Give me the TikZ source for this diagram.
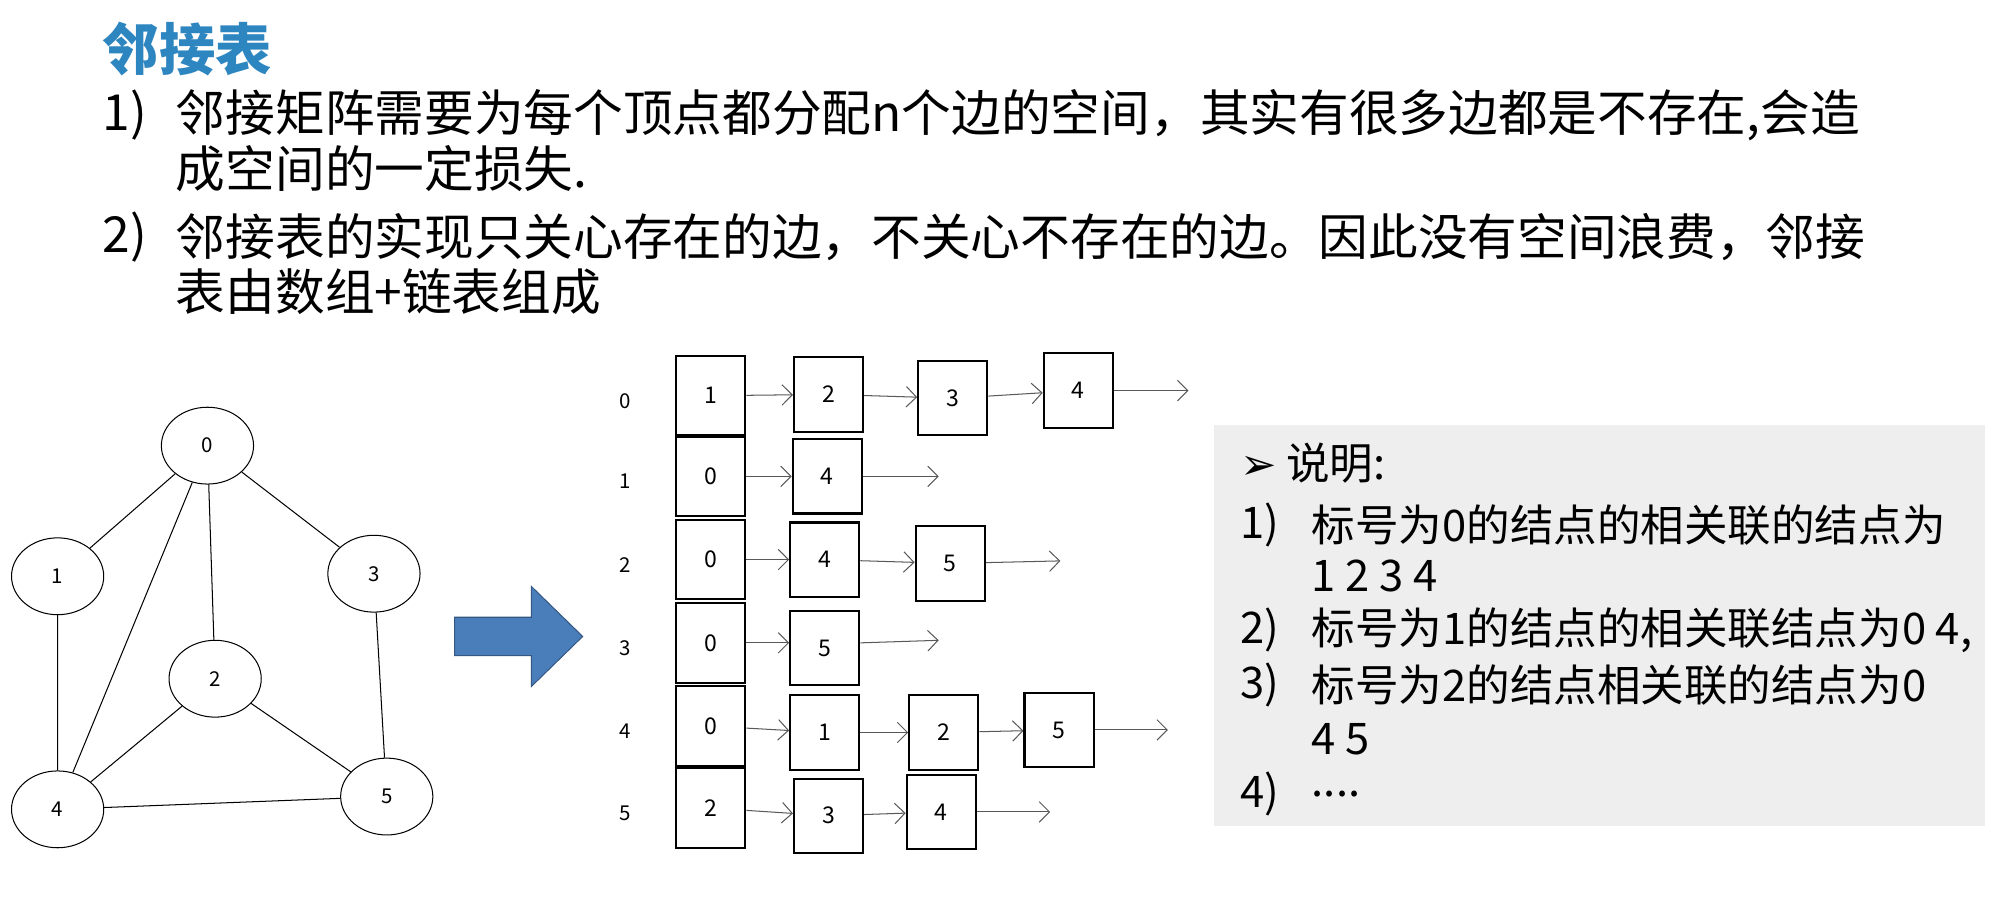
\documentclass[tikz,border=0pt]{standalone}
\usepackage{fontspec}
\setmainfont{Noto Sans CJK SC}
\newfontfamily\dv{DejaVu Sans}
\usetikzlibrary{arrows.meta,shapes.geometric}
\definecolor{ttl}{HTML}{2E86C1}
\definecolor{arrblue}{HTML}{4A7EBB}
\definecolor{panel}{HTML}{EEEEEE}
\tikzset{
 gn/.style={draw,ellipse,minimum width=36pt,minimum height=30pt,inner sep=0pt,font=\fontsize{8}{8}\selectfont},
 cell/.style={draw,thick,minimum width=27,minimum height=29,inner sep=0pt,font=\fontsize{9}{9}\selectfont},
 lnk/.style={-{Straight Barb[length=4pt]},gray!70!black},
 lab/.style={font=\fontsize{8}{8}\selectfont},
 txt/.style={anchor=west,font=\fontsize{19.4}{19.4}\selectfont,inner sep=0pt},
 ptxt/.style={anchor=west,font=\fontsize{17}{17}\selectfont,inner sep=0pt},
}
\begin{document}
\begin{tikzpicture}[x=0.5pt,y=-0.5pt]
\useasboundingbox[fill=white] (0,0) rectangle (1568,704);
\node[txt,text=ttl,font=\fontsize{22}{22}\selectfont\bfseries] (title) at (80,38) {邻接表};
\node[txt] (n1) at (80,90) {1)};
\node[txt] (t1) at (137,90) {邻接矩阵需要为每个顶点都分配n个边的空间，其实有很多边都是不存在,会造};
\node[txt] (t1b) at (137,132) {成空间的一定损失.};
\node[txt] (n2) at (80,185) {2)};
\node[txt] (t2) at (137,185) {邻接表的实现只关心存在的边，不关心不存在的边。因此没有空间浪费，邻接};
\node[txt] (t2b) at (137,228) {表由数组+链表组成};
% graph
\node[gn] (g0) at (162,348) {0};
\node[gn] (g1) at (45,450) {1};
\node[gn] (g3) at (292,448) {3};
\node[gn] (g2) at (168,530) {2};
\node[gn] (g4) at (45,632) {4};
\node[gn] (g5) at (302,622) {5};
\draw (g0)--(g1) (g0)--(g3) (g0)--(g2) (g0)--(g4) (g1)--(g4) (g3)--(g5) (g2)--(g4) (g2)--(g5) (g4)--(g5);
% big arrow
\draw[fill=arrblue,draw=arrblue!70!black] (355,482)--(415,482)--(415,458)--(455,497)--(415,536)--(415,512)--(355,512)--cycle;
% array
\foreach \r/\y/\v in {0/309/1,1/372/0,2/437/0,3/502/0,4/567/0,5/631/2}{
 \node[cell,minimum height=31] (a\r) at (555,\y) {\v};
 \node[lab] (l\r) at (488,\y+4) {\r};
}
% row0
\node[cell] (b01) at (647,308) {2};
\node[cell] (b02) at (744,311) {3};
\node[cell] (b03) at (842,305) {4};
\coordinate (e0) at (928,305);
\draw[lnk] (a0)--(b01); \draw[lnk] (b01)--(b02); \draw[lnk] (b02)--(b03); \draw[lnk] (b03)--(e0);
% row1
\node[cell] (b11) at (646,372) {4}; \coordinate (e1) at (733,372);
\draw[lnk] (a1)--(b11); \draw[lnk] (b11)--(e1);
% row2
\node[cell] (b21) at (644,437) {4};
\node[cell] (b22) at (742,440) {5}; \coordinate (e2) at (828,438);
\draw[lnk] (a2)--(b21); \draw[lnk] (b21)--(b22); \draw[lnk] (b22)--(e2);
% row3
\node[cell] (b31) at (644,506) {5}; \coordinate (e3) at (733,500);
\draw[lnk] (a3.east)--(b31.west|-a3); \draw[lnk] (b31.east|-a3)--(e3);
% row4
\node[cell] (b41) at (644,572) {1};
\node[cell] (b42) at (737,572) {2};
\node[cell] (b43) at (827,570) {5}; \coordinate (e4) at (912,570);
\draw[lnk] (a4)--(b41); \draw[lnk] (b41)--(b42); \draw[lnk] (b42)--(b43); \draw[lnk] (b43)--(e4);
% row5
\node[cell] (b51) at (647,637) {3};
\node[cell] (b52) at (735,634) {4}; \coordinate (e5) at (820,634);
\draw[lnk] (a5)--(b51); \draw[lnk] (b51)--(b52); \draw[lnk] (b52)--(e5);
% panel
\fill[panel] (948,332) rectangle (1550,645);
\node[ptxt] (p0) at (968,362) {{\dv ➢}\ 说明:};
\node[ptxt] (q1) at (968,410) {1)};
\node[ptxt] (p1) at (1024,410) {标号为0的结点的相关联的结点为};
\node[ptxt] (p1b) at (1024,450) {1 2 3 4};
\node[ptxt] (q2) at (968,492) {2)};
\node[ptxt] (p2) at (1024,492) {标号为1的结点的相关联结点为0 4,};
\node[ptxt] (q3) at (968,535) {3)};
\node[ptxt] (p3) at (1024,535) {标号为2的结点相关联的结点为0};
\node[ptxt] (p3b) at (1024,577) {4 5};
\node[ptxt] (q4) at (968,620) {4)};
\node[ptxt] (p4) at (1024,620) {....};
\end{tikzpicture}
\end{document}
